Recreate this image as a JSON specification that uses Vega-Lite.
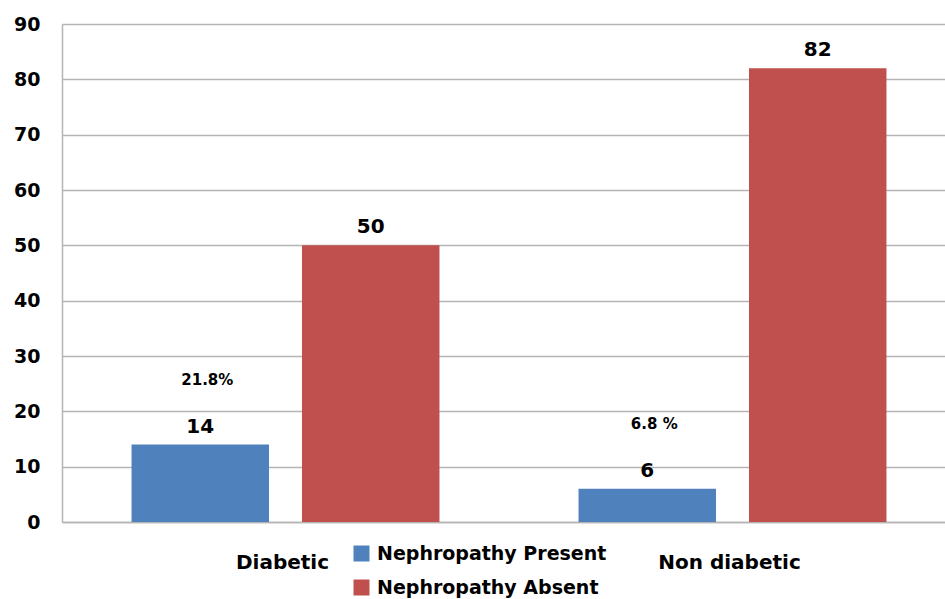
{
  "$schema": "https://vega.github.io/schema/vega-lite/v6.json",
  "width": 883,
  "height": 498,
  "autosize": {"type": "none"},
  "padding": {"left": 62, "top": 24, "right": 0, "bottom": 77},
  "config": {"view": {"stroke": null}, "font": "DejaVu Sans"},
  "data": {
    "values": [
      {"group": "Diabetic", "status": "Nephropathy Present", "count": 14, "pct": "21.8%"},
      {"group": "Diabetic", "status": "Nephropathy Absent", "count": 50, "pct": ""},
      {"group": "Non diabetic", "status": "Nephropathy Present", "count": 6, "pct": "6.8 %"},
      {"group": "Non diabetic", "status": "Nephropathy Absent", "count": 82, "pct": ""}
    ]
  },
  "encoding": {
    "x": {
      "field": "group",
      "type": "nominal",
      "sort": ["Diabetic", "Non diabetic"],
      "scale": {"range": [0, 894], "paddingInner": 0, "paddingOuter": 0},
      "axis": {
        "title": null,
        "labelAngle": 0,
        "ticks": false,
        "domainColor": "#b4b4b4",
        "domainWidth": 1.5,
        "labelFontSize": 20,
        "labelFontWeight": "bold",
        "labelColor": "#000000",
        "labelPadding": 30,
        "labelOffset": -3
      }
    },
    "xOffset": {
      "field": "status",
      "sort": ["Nephropathy Present", "Nephropathy Absent"],
      "scale": {"paddingInner": 0.1935, "paddingOuter": 0.408}
    },
    "y": {
      "field": "count",
      "type": "quantitative",
      "scale": {"domain": [0, 90], "nice": false},
      "axis": {
        "title": null,
        "values": [0, 10, 20, 30, 40, 50, 60, 70, 80, 90],
        "ticks": false,
        "domainColor": "#b4b4b4",
        "domainWidth": 1.5,
        "gridColor": "#b4b4b4",
        "gridWidth": 1.5,
        "labelFontSize": 19,
        "labelFontWeight": "bold",
        "labelColor": "#000000",
        "labelPadding": 22
      }
    }
  },
  "layer": [
    {
      "mark": {"type": "bar"},
      "encoding": {
        "color": {
          "field": "status",
          "type": "nominal",
          "sort": ["Nephropathy Present", "Nephropathy Absent"],
          "scale": {"domain": ["Nephropathy Present", "Nephropathy Absent"], "range": ["#4F81BD", "#C0504D"]},
          "legend": {
            "title": null,
            "orient": "none",
            "legendX": 290,
            "legendY": 520,
            "symbolType": "square",
            "symbolSize": 256,
            "symbolStrokeWidth": 0,
            "labelFontSize": 19,
            "labelFontWeight": "bold",
            "labelColor": "#000000",
            "labelOffset": 6,
            "labelLimit": 400,
            "rowPadding": 14
          }
        }
      }
    },
    {
      "mark": {"type": "text", "fontSize": 20, "fontWeight": "bold", "baseline": "alphabetic", "dy": -12, "color": "#000000"},
      "encoding": {"text": {"field": "count", "type": "quantitative"}}
    },
    {
      "mark": {"type": "text", "fontSize": 15, "fontWeight": "bold", "baseline": "alphabetic", "dy": -60, "dx": 7, "color": "#000000"},
      "encoding": {"text": {"field": "pct", "type": "nominal"}}
    }
  ]
}
